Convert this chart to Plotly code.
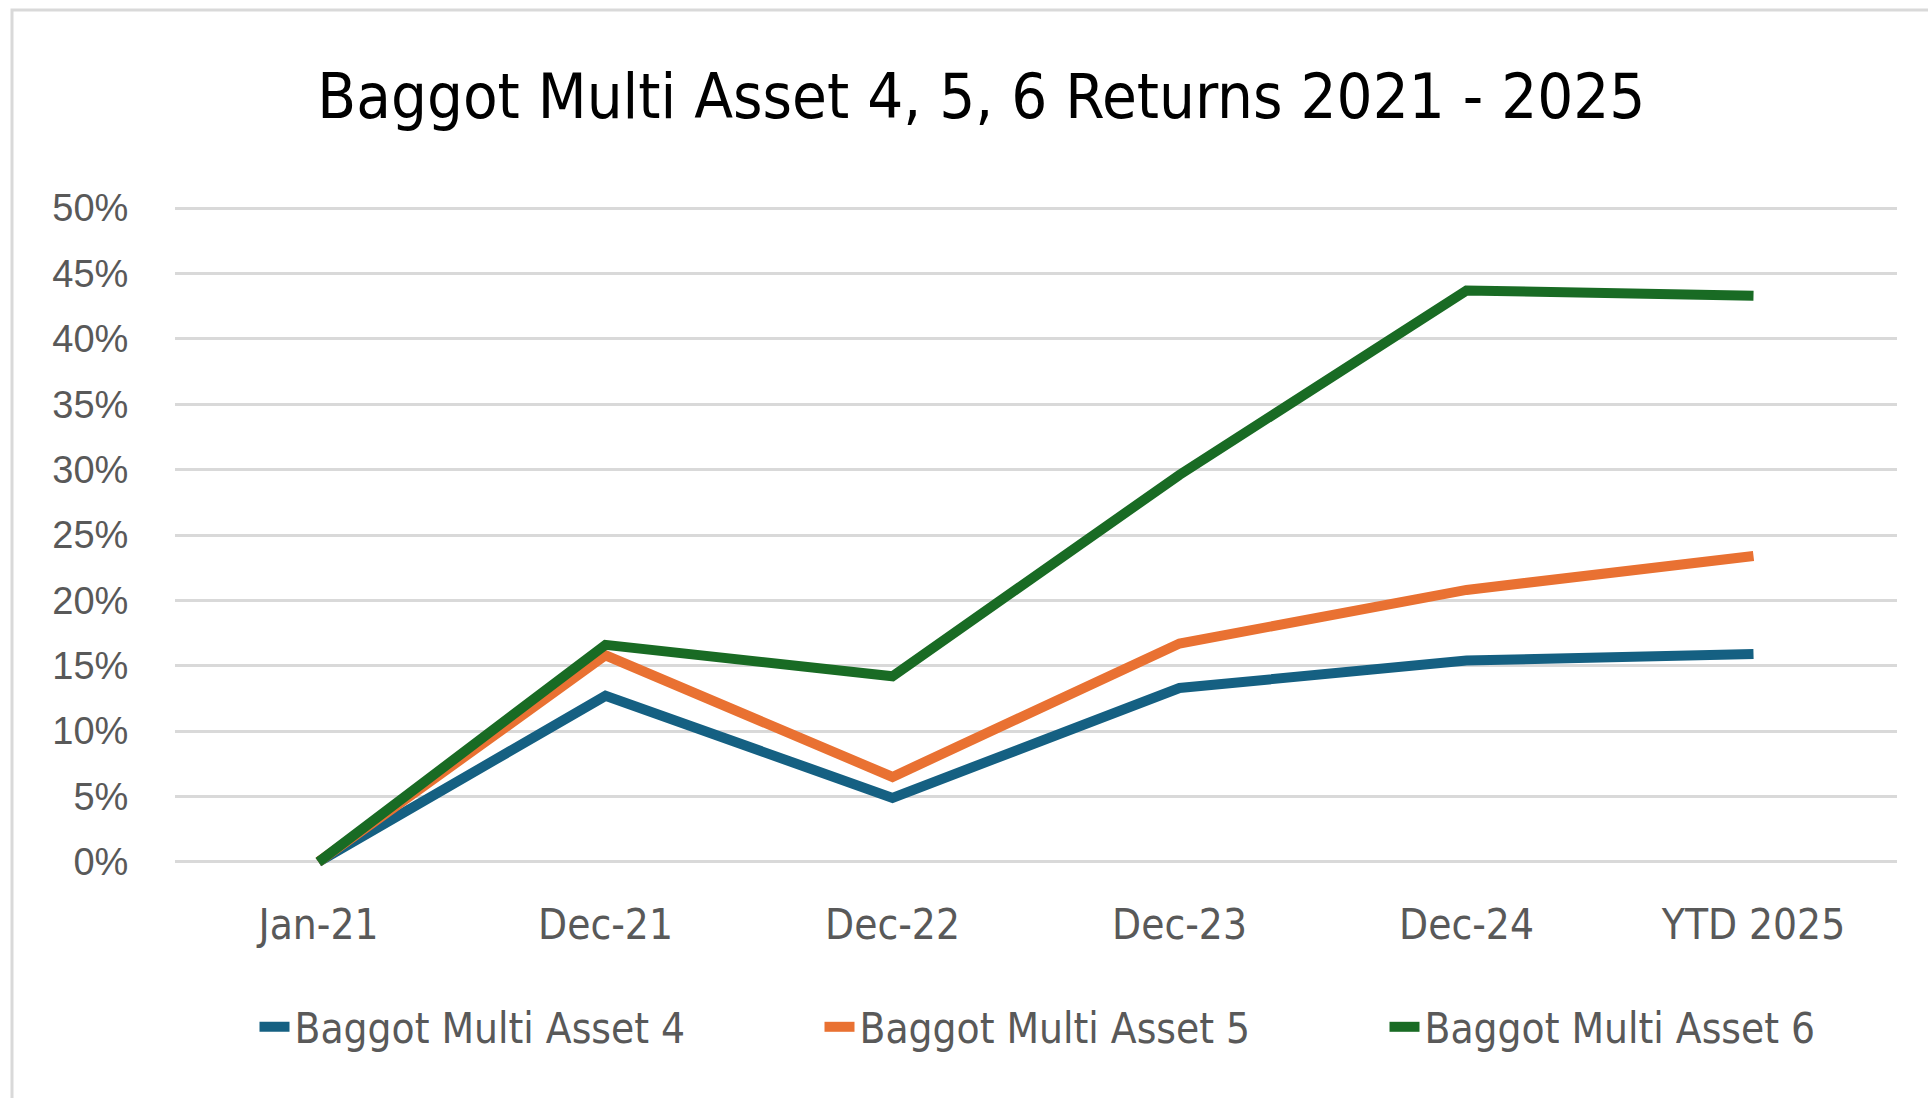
import plotly.graph_objects as go

categories = ["Jan-21", "Dec-21", "Dec-22", "Dec-23", "Dec-24", "YTD 2025"]
asset4 = [0.0, 0.127, 0.049, 0.133, 0.154, 0.159]
asset5 = [0.0, 0.158, 0.065, 0.167, 0.208, 0.234]
asset6 = [0.0, 0.166, 0.142, 0.296, 0.437, 0.433]
series_names = ["Baggot Multi Asset 4", "Baggot Multi Asset 5", "Baggot Multi Asset 6"]
series_colors = ["#156082", "#E97132", "#196B24"]
y_ticks = [0, 0.05, 0.10, 0.15, 0.20, 0.25, 0.30, 0.35, 0.40, 0.45, 0.50]
y_tick_labels = ["0%", "5%", "10%", "15%", "20%", "25%", "30%", "35%", "40%", "45%", "50%"]

NARROW = "Liberation Sans Narrow, Arial Narrow, DejaVu Sans Condensed, sans-serif"
WIDE = "Liberation Sans, Arial, sans-serif"

fig = go.Figure()
for name, vals, col in zip(series_names, [asset4, asset5, asset6], series_colors):
    fig.add_trace(go.Scatter(
        x=categories, y=vals, name=name, mode="lines",
        line=dict(color=col, width=10),
    ))

fig.update_layout(
    width=1928, height=1098,
    margin=dict(l=175, r=31, t=195, b=223),
    paper_bgcolor="white", plot_bgcolor="white",
    title=dict(text="Baggot Multi Asset 4, 5, 6 Returns 2021 - 2025",
               font=dict(family=NARROW, size=63, color="#000000"),
               xref="container", x=0.509, xanchor="center",
               yref="container", y=1 - 96 / 1098, yanchor="middle"),
    xaxis=dict(type="category", range=[-0.5, 5.5], showgrid=False, zeroline=False,
               showline=False, ticks="outside", ticklen=13, tickcolor="rgba(0,0,0,0)",
               tickfont=dict(family=NARROW, size=42, color="#595959")),
    yaxis=dict(range=[-0.01, 0.51], tickvals=y_ticks, ticktext=y_tick_labels,
               showgrid=True, gridcolor="#D9D9D9", gridwidth=3, zeroline=False,
               showline=False, ticks="outside", ticklen=38, tickcolor="rgba(0,0,0,0)",
               tickfont=dict(family=WIDE, size=38, color="#595959")),
    legend=dict(orientation="h", xref="container", yref="container",
                x=1102 / 1928, xanchor="center", y=1 - 1027 / 1098, yanchor="middle",
                font=dict(family=NARROW, size=42, color="#595959"),
                entrywidth=520, entrywidthmode="pixels", itemwidth=30),
    showlegend=True,
)

fig.add_shape(type="rect", xref="paper", yref="paper",
              x0=(12 - 175) / 1722, x1=(1960 - 175) / 1722,
              y0=(875 - 1130) / 680, y1=(875 - 10) / 680,
              line=dict(color="#D9D9D9", width=3), fillcolor="rgba(0,0,0,0)", layer="below")

fig.write_html("out.html")
